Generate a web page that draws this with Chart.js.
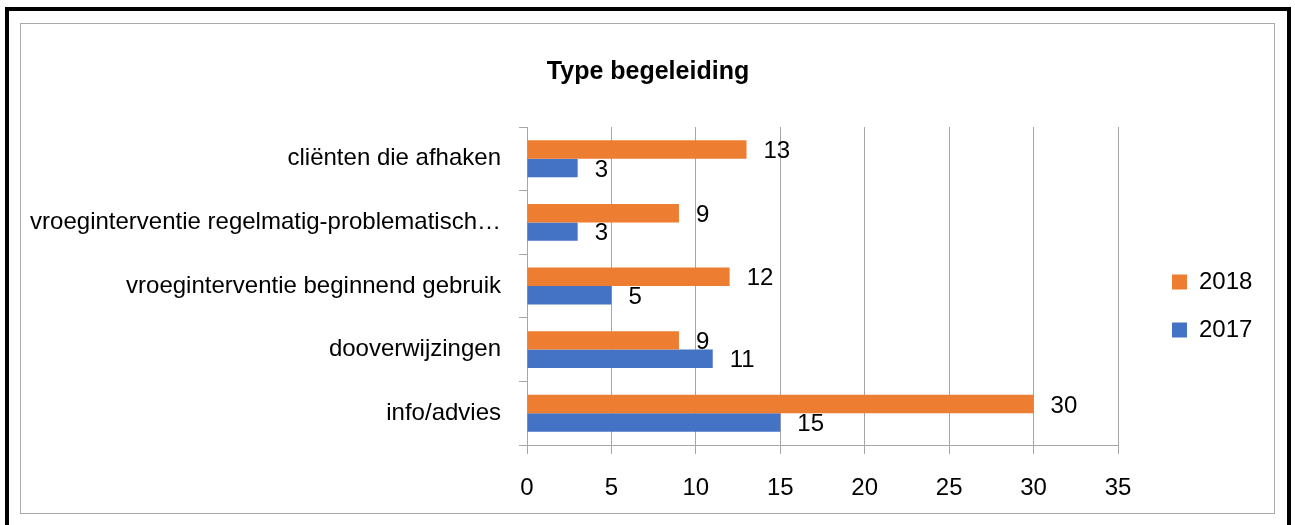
<!DOCTYPE html>
<html>
<head>
<meta charset="utf-8">
<script src="https://cdn.jsdelivr.net/npm/chart.js@4.4.0/dist/chart.umd.min.js"></script>
<style>
    body { margin: 0; background: #fff; }
    #wrap { position: relative; width: 1295px; height: 525px; overflow: hidden; }
    .outer { position: absolute; left: 5px; top: 7px; width: 1278px; height: 530px; border: 4px solid #000; border-bottom: none; }
    .inner { position: absolute; left: 20px; top: 23px; width: 1253px; height: 489px; border: 1px solid #aaa; }
    canvas { position: absolute; left: 0; top: 0; }
</style>
</head>
<body>
<div id="wrap">
    <div class="outer"></div>
    <div class="inner"></div>
    <canvas id="typeChart" width="1295" height="525"></canvas>
</div>
<script>
// gegevens
const categories = [
    'cliënten die afhaken',
    'vroeginterventie regelmatig-problematisch…',
    'vroeginterventie beginnend gebruik',
    'dooverwijzingen',
    'info/advies'
];
const values2018 = [13, 9, 12, 9, 30];
const values2017 = [3, 3, 5, 11, 15];
const xTicks = [0, 5, 10, 15, 20, 25, 30, 35];

const FONT = '"Liberation Sans", Arial, sans-serif';
const GRID = '#a6a6a6';

Chart.defaults.font.family = FONT;
Chart.defaults.color = '#000';

// waarden naast de balken
const barValueLabels = {
    id: 'barValueLabels',
    afterDatasetsDraw(chart) {
        const ctx = chart.ctx;
        ctx.save();
        ctx.font = '24px ' + FONT;
        ctx.fillStyle = '#000';
        ctx.textAlign = 'left';
        ctx.textBaseline = 'middle';
        chart.data.datasets.forEach((ds, i) => {
            chart.getDatasetMeta(i).data.forEach((bar, j) => {
                ctx.fillText(ds.data[j], bar.x + 17, bar.y + 2);
            });
        });
        ctx.restore();
    }
};

// titel centreren over de hele breedte, legenda iets verschuiven
const boxNudge = {
    id: 'boxNudge',
    afterLayout(chart) {
        const t = chart.titleBlock;
        if (t) { t.left += 32; t.right += 32; }
        const lg = chart.legend;
        lg.left += 30; lg.right += 30;
        lg.top += 20; lg.bottom += 20;
    }
};

const ctx = document.getElementById('typeChart').getContext('2d');
new Chart(ctx, {
    type: 'bar',
    data: {
        labels: categories,
        datasets: [
            { label: '2018', data: values2018, backgroundColor: '#ED7D31' },
            { label: '2017', data: values2017, backgroundColor: '#4472C4' }
        ]
    },
    options: {
        indexAxis: 'y',
        responsive: false,
        animation: false,
        categoryPercentage: 0.58,
        barPercentage: 1,
        layout: { padding: { top: 0, left: 0, right: 63, bottom: 0 } },
        plugins: {
            title: {
                display: true,
                text: 'Type begeleiding',
                font: { size: 25, weight: 'bold' },
                padding: { top: 57, bottom: 40 }
            },
            legend: {
                position: 'right',
                fullSize: false,
                maxWidth: 114,
                labels: {
                    boxWidth: 15,
                    boxHeight: 15,
                    padding: 24,
                    font: { size: 24 }
                }
            },
            tooltip: { enabled: false }
        },
        scales: {
            x: {
                min: 0,
                max: 35,
                afterBuildTicks: scale => {
                    scale.ticks = xTicks.map(v => ({ value: v }));
                },
                afterFit: scale => { scale.height = 80; },
                ticks: { font: { size: 24 }, padding: 20 },
                grid: { color: GRID, tickLength: 9 },
                border: { color: GRID }
            },
            y: {
                afterFit: scale => { scale.width = 527; },
                ticks: { font: { size: 24 }, padding: 18 },
                grid: { color: GRID, drawOnChartArea: false, tickLength: 8, offset: true },
                border: { color: GRID }
            }
        }
    },
    plugins: [barValueLabels, boxNudge]
});
</script>
</body>
</html>
